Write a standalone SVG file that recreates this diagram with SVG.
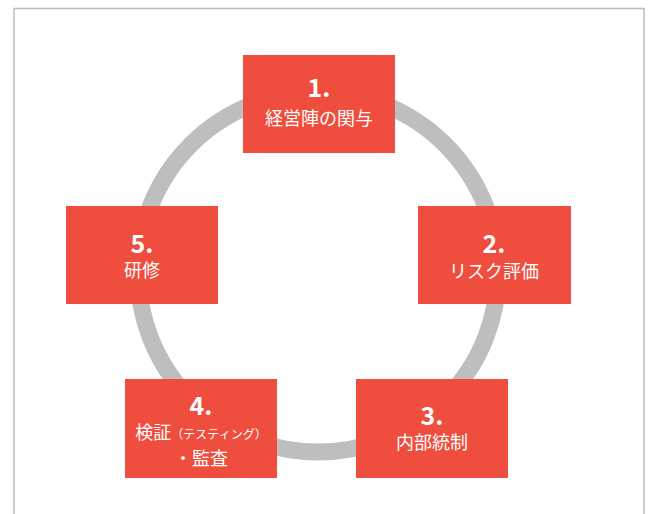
<svg xmlns="http://www.w3.org/2000/svg" width="651" height="514" viewBox="0 0 651 514">
<style>
.box{fill:#ef4d3d}
.num{font-family:"Noto Sans CJK JP","Noto Sans",sans-serif;font-weight:700;font-size:25px;fill:#fff;text-anchor:middle}
.lbl{font-family:"Noto Sans CJK JP","Noto Sans",sans-serif;font-size:18px;fill:#fff;text-anchor:middle}
.sm{font-size:12px}
</style>
<rect x="0" y="0" width="651" height="514" fill="#fff"/>
<rect x="14" y="8.5" width="630" height="520" fill="none" stroke="#bdbdbd" stroke-width="1.5"/>
<g id="connectors">
<circle cx="318" cy="272" r="180" fill="none" stroke="#bcbec0" stroke-width="17"/>
</g>
<g id="node1">
<rect class="box" x="243" y="55" width="152" height="98"/>
<text class="num" x="319" y="97">1.</text>
<text class="lbl" x="319" y="125">経営陣の関与</text>
</g>
<g id="node2">
<rect class="box" x="418" y="206" width="153" height="98"/>
<text class="num" x="494" y="253">2.</text>
<text class="lbl" x="494" y="278">リスク評価</text>
</g>
<g id="node3">
<rect class="box" x="356" y="379" width="152" height="99"/>
<text class="num" x="432" y="425">3.</text>
<text class="lbl" x="432" y="449">内部統制</text>
</g>
<g id="node4">
<rect class="box" x="125" y="379" width="152" height="99"/>
<text class="num" x="201" y="415">4.</text>
<text class="lbl" x="201" y="439">検証<tspan class="sm">（テスティング）</tspan></text>
<text class="lbl" x="201" y="465">・監査</text>
</g>
<g id="node5">
<rect class="box" x="66" y="206" width="152" height="98"/>
<text class="num" x="142" y="253">5.</text>
<text class="lbl" x="142" y="277">研修</text>
</g>
</svg>
